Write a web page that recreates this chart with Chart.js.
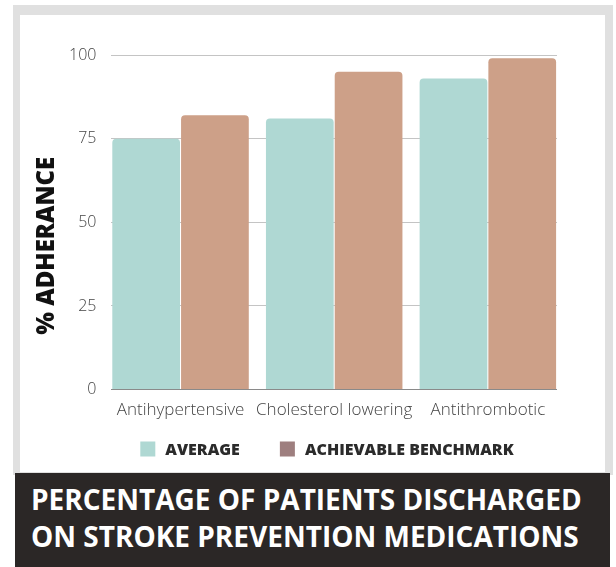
<!DOCTYPE html>
<html>
<head>
<meta charset="utf-8">
<script src="https://cdn.jsdelivr.net/npm/chart.js@4/dist/chart.umd.min.js"></script>
<style>
  html, body { margin: 0; padding: 0; background: #fff; }
  body { width: 616px; height: 567px; position: relative; overflow: hidden; font-family: "Open Sans", sans-serif; }
  #frame { position: absolute; left: 13px; top: 5px; width: 600px; height: 470px; background: #e0e0e0; }
  #card { position: absolute; left: 20px; top: 15px; width: 585px; height: 457px; background: #fff; }
  #card canvas { display: block; }
  #titlebar { position: absolute; left: 15px; top: 473px; width: 595px; height: 94px; background: #2b2726; }
  #titlebar h1 { margin: 0; position: absolute; left: 16px; top: 8px; color: #fff; font-size: 28px; line-height: 37px; font-weight: 700; white-space: nowrap; }
</style>
</head>
<body>
<div id="frame"></div>
<div id="card"><canvas id="bar-chart" width="585" height="457"></canvas></div>
<div id="titlebar"><h1>PERCENTAGE OF PATIENTS DISCHARGED<br>ON STROKE PREVENTION MEDICATIONS</h1></div>
<script>
// medication groups and adherence values (%)
const categories = ['Antihypertensive', 'Cholesterol lowering', 'Antithrombotic'];
const seriesNames = ['AVERAGE', 'ACHIEVABLE BENCHMARK'];
const averageValues = [75, 81, 93];
const benchmarkValues = [82, 95, 99];
const yTicks = [0, 25, 50, 75, 100];
const yTitle = '% ADHERANCE';

const tealColor = '#afd8d3';
const tanColor = '#cda088';
const legendColors = [tealColor, '#9e7f7f']; // benchmark swatch is a mauve, not the bar tan

// x runs on a linear index so the gridlines stop at the outer bar edges
const xIndex = categories.map(function(c, i) { return i; });

// y title sits a bit below the middle of the axis, and the legend needs wide
// gaps between items, so both are drawn here
const extrasPlugin = {
  id: 'extras',
  afterDraw: function(chart) {
    const c = chart.ctx;
    const area = chart.chartArea;
    c.save();
    c.translate(27, area.top + (area.bottom - area.top) * 0.57);
    c.rotate(-Math.PI / 2);
    c.font = '800 24px "Open Sans"';
    c.fillStyle = '#111';
    c.textAlign = 'center';
    c.textBaseline = 'middle';
    c.fillText(yTitle, 0, 0);
    c.restore();

    // legend row
    const box = 15, boxGap = 10, itemGap = 40;
    const midX = 307, midY = 434;
    c.save();
    c.font = '800 16px "Open Sans"';
    c.textBaseline = 'middle';
    c.textAlign = 'left';
    const widths = chart.data.datasets.map(function(ds) { return box + boxGap + c.measureText(ds.label).width; });
    const total = widths.reduce(function(a, b) { return a + b; }, 0) + itemGap * (widths.length - 1);
    let x = midX - total / 2;
    chart.data.datasets.forEach(function(ds, i) {
      c.fillStyle = legendColors[i];
      c.fillRect(x, midY - box / 2, box, box);
      c.fillStyle = '#2b2b2b';
      c.fillText(ds.label, x + box + boxGap, midY + 1);
      x += widths[i] + itemGap;
    });
    c.restore();
  }
};

const ctx = document.getElementById('bar-chart').getContext('2d');
new Chart(ctx, {
  type: 'bar',
  data: {
    labels: xIndex,
    datasets: [{
      label: seriesNames[0],
      data: averageValues,
      backgroundColor: tealColor,
      borderRadius: { topLeft: 4, topRight: 4 },
      borderSkipped: 'bottom',
      barPercentage: 0.985,
      categoryPercentage: 0.895
    }, {
      label: seriesNames[1],
      data: benchmarkValues,
      backgroundColor: tanColor,
      borderRadius: { topLeft: 4, topRight: 4 },
      borderSkipped: 'bottom',
      barPercentage: 0.985,
      categoryPercentage: 0.895
    }]
  },
  plugins: [extrasPlugin],
  options: {
    responsive: false,
    animation: false,
    layout: { padding: { left: 34, right: 48, top: 40, bottom: 42 } },
    plugins: {
      tooltip: { enabled: false },
      legend: { display: false }
    },
    scales: {
      x: {
        type: 'linear',
        offset: false,
        min: -0.45,
        max: 2.45,
        afterBuildTicks: function(axis) {
          axis.ticks = xIndex.map(function(v) { return { value: v }; });
        },
        grid: { display: false, offset: false, drawTicks: false },
        border: { display: false },
        ticks: {
          color: '#444',
          padding: 10,
          maxRotation: 0,
          autoSkip: false,
          font: { family: 'Open Sans', size: 17, weight: '300' },
          callback: function(v) { return categories[v]; }
        }
      },
      y: {
        min: 0,
        max: 100,
        afterBuildTicks: function(axis) {
          axis.ticks = yTicks.map(function(v) { return { value: v }; });
        },
        border: { display: false },
        grid: {
          drawTicks: false,
          color: function(c) { return c.tick.value === 0 ? '#8a8a8a' : '#c4c4c4'; }
        },
        ticks: {
          color: '#444',
          padding: 15,
          font: { family: 'Open Sans', size: 16, weight: '300' }
        }
      }
    }
  }
});
</script>
</body>
</html>
